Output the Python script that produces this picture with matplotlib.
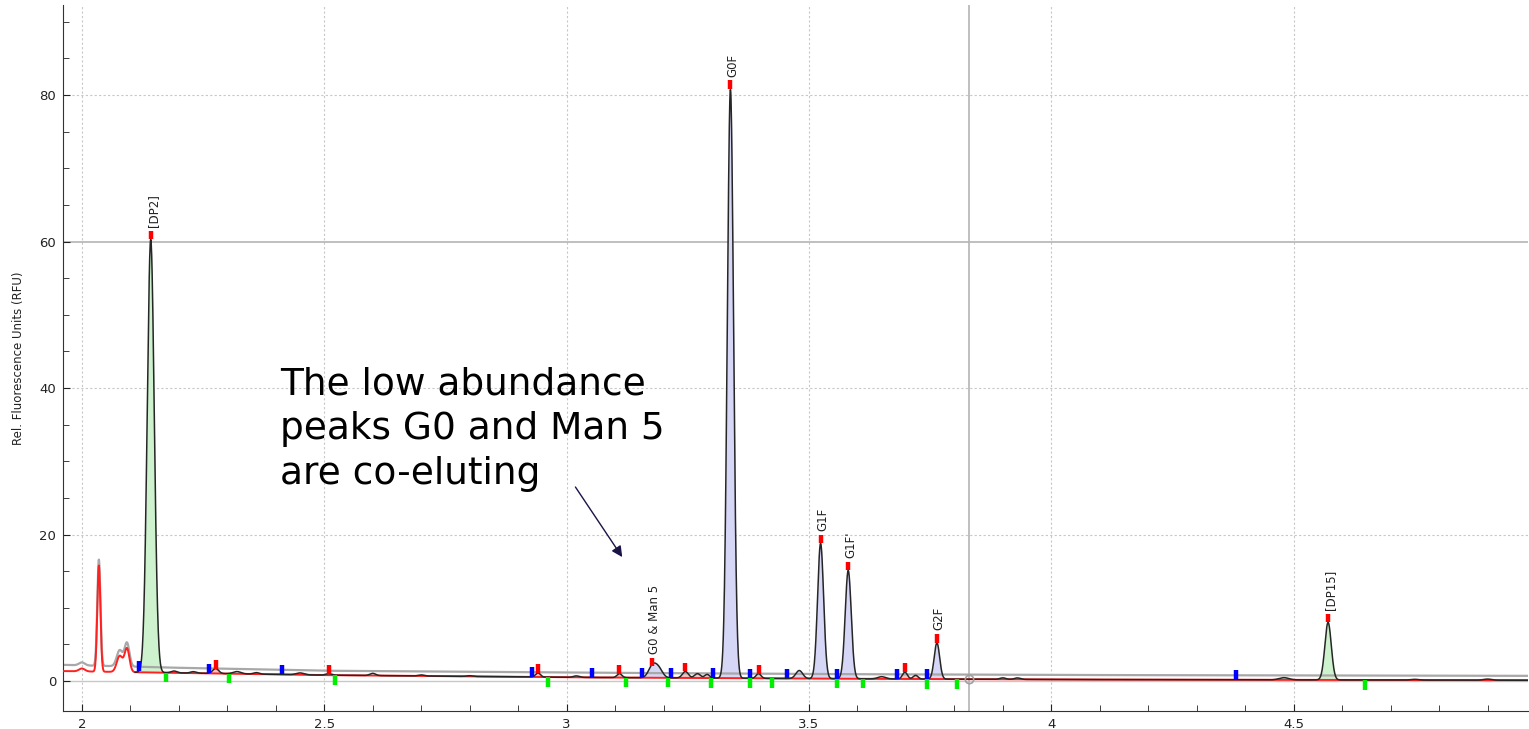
import numpy as np
import matplotlib.pyplot as plt

# Retention time axis (min)
x = np.linspace(1.96, 4.983, 6000)

# Drifting baseline of the detector trace (red) and the blank trace (grey)
base_knots_x = [1.96, 2.2, 2.5, 3.0, 3.5, 4.0, 4.983]
base_knots_y = [1.35, 1.1, 0.8, 0.5, 0.32, 0.2, 0.1]
blank_knots_x = [1.96, 2.2, 2.5, 3.0, 3.5, 4.0, 4.983]
blank_knots_y = [2.2, 1.8, 1.4, 1.15, 0.95, 0.82, 0.7]

# System peaks before the first glycan (seen on both red and grey traces)
early_pos = [2.0, 2.035, 2.078, 2.093]
early_apex = [0.4, 14.5, 2.2, 3.2]
early_sig = [0.006, 0.0032, 0.006, 0.005]

# Integrated peaks: apex retention time, apex RFU, width, start, end, label, fill
peak_pos = [2.142, 2.276, 2.509, 2.941, 3.109, 3.177, 3.245, 3.338, 3.396,
            3.524, 3.581, 3.698, 3.764, 4.571]
peak_apex = [60.3, 1.7, 1.0, 1.1, 1.0, 2.0, 1.3, 80.8, 1.0, 18.8, 15.1, 1.2,
             5.2, 8.0]
peak_sig = [0.0072, 0.006, 0.006, 0.005, 0.005, 0.008, 0.006, 0.0064, 0.005,
            0.0062, 0.0062, 0.005, 0.0056, 0.0066]
peak_start = [2.118, 2.262, 2.412, 2.928, 3.052, 3.155, 3.216, 3.302, 3.379,
              3.454, 3.557, 3.682, 3.743, 4.381]
peak_end = [2.173, 2.303, 2.523, 2.961, 3.122, 3.209, 3.297, 3.379, 3.424,
            3.557, 3.611, 3.743, 3.805, 4.647]
peak_label = ['[DP2]', '', '', '', '', 'G0 & Man 5', '', 'G0F', '', 'G1F',
              "G1F'", '', 'G2F', '[DP15]']
peak_kind = ['ladder', 'minor', 'minor', 'minor', 'minor', 'glycan', 'minor',
             'glycan', 'minor', 'glycan', 'glycan', 'minor', 'glycan', 'ladder']

# Small unlabelled bumps on the sample trace
bump_pos = [2.19, 2.23, 2.32, 2.36, 2.45, 2.6, 2.7, 2.8, 3.02, 3.19, 3.27,
            3.29, 3.48, 3.65, 3.72, 3.9, 3.93, 4.48, 4.75, 4.9]
bump_h = [0.25, 0.2, 0.3, 0.2, 0.25, 0.3, 0.15, 0.1, 0.2, 1.2, 0.6, 0.5,
          1.1, 0.3, 0.5, 0.2, 0.2, 0.3, 0.1, 0.15]
bump_sig = [0.006, 0.006, 0.008, 0.006, 0.008, 0.006, 0.006, 0.006, 0.006,
            0.008, 0.006, 0.005, 0.007, 0.008, 0.005, 0.006, 0.006, 0.01,
            0.008, 0.008]

cursor_x = 3.831
cursor_y = 60


def gauss(pos, h, s):
    return h * np.exp(-0.5 * ((x - pos) / s) ** 2)


baseline = np.interp(x, base_knots_x, base_knots_y)
blank = np.interp(x, blank_knots_x, blank_knots_y)

early = sum(gauss(p, h, s) for p, h, s in zip(early_pos, early_apex, early_sig))
red_trace = baseline + early
grey_trace = blank + early
grey_trace[x > 2.118] = blank[x > 2.118]

sample = baseline.copy()
for p, a, s in zip(peak_pos, peak_apex, peak_sig):
    sample += gauss(p, a - np.interp(p, base_knots_x, base_knots_y), s)
for p, h, s in zip(bump_pos, bump_h, bump_sig):
    sample += gauss(p, h, s)

fig = plt.figure(figsize=(15.29, 7.29), dpi=100)
ax = fig.add_axes([0.0412, 0.0247, 0.958, 0.9684])

ax.set_xlim(1.961, 4.983)
ax.set_ylim(-4.1, 92.3)

ax.set_xticks([2, 2.5, 3, 3.5, 4, 4.5])
ax.set_xticklabels(['2', '2.5', '3', '3.5', '4', '4.5'])
ax.set_xticks(np.arange(2.0, 4.95, 0.1), minor=True)
ax.set_yticks([0, 20, 40, 60, 80])
ax.set_yticks(np.arange(0, 91, 5), minor=True)
ax.tick_params(which='both', direction='in', labelsize=9.5, colors='#222222')
ax.tick_params(which='major', length=5, pad=5)
ax.tick_params(which='minor', length=4)
for side in ['top', 'right']:
    ax.spines[side].set_visible(False)
for side in ['left', 'bottom']:
    ax.spines[side].set_color('#333333')

for gx in [2, 2.5, 3, 3.5, 4, 4.5]:
    ax.axvline(gx, color='#c8c8c8', lw=0.8, ls=(0, (2, 2)), zorder=0)
for gy in [20, 40, 80]:
    ax.axhline(gy, color='#c8c8c8', lw=0.8, ls=(0, (2, 2)), zorder=0)
ax.axhline(0, color='#c8c8c8', lw=1.0, zorder=0)
ax.axhline(cursor_y, color='#b4b4b4', lw=1.2, zorder=0)
ax.axvline(cursor_x, color='#b4b4b4', lw=1.2, zorder=0)

ax.set_ylabel('Rel. Fluorescence Units (RFU)', fontsize=8.5, color='#222222',
              labelpad=10)

fill_colors = {'ladder': '#cdf2cd', 'glycan': '#d6d6f6', 'minor': '#f6c2c2'}
mask_sample = x >= 2.11
for st, en, kind in zip(peak_start, peak_end, peak_kind):
    seg = (x >= st) & (x <= en)
    ax.fill_between(x[seg], baseline[seg], sample[seg],
                    color=fill_colors[kind], lw=0, zorder=1)

ax.plot(x, grey_trace, color='#a8a8a8', lw=1.6, zorder=2)
ax.plot(x, red_trace, color='#ff2020', lw=1.4, zorder=3)
ax.plot(x[mask_sample], sample[mask_sample], color='#262626', lw=1.1, zorder=4)

# Peak start / apex / end markers
for st in peak_start:
    yb = np.interp(st, x, sample)
    ax.vlines(st, yb, yb + 1.3, color='#0000ff', lw=3.2, zorder=5)
for en in peak_end:
    yb = np.interp(en, x, baseline)
    ax.vlines(en, yb - 1.3, yb, color='#00ee00', lw=3.2, zorder=5)
for p, a, lab in zip(peak_pos, peak_apex, peak_label):
    ax.vlines(p, a, a + 1.2, color='#ff0000', lw=3.2, zorder=5)
    if lab:
        ax.text(p + 0.005, a + 1.7, lab, rotation=90, ha='center', va='bottom',
                fontsize=8.5, color='#222222')

ax.plot([cursor_x], [np.interp(cursor_x, x, baseline)], 'o', ms=6, mfc='none',
        mec='#a0a0a0', mew=1.2, zorder=6)

ax.text(2.408, 42.9, 'The low abundance\npeaks G0 and Man 5\nare co-eluting',
        fontsize=27, color='black', ha='left', va='top', linespacing=1.3)
ax.annotate('', xy=(3.118, 16.6), xytext=(3.015, 26.8),
            arrowprops=dict(arrowstyle='-|>', color='#1a1446', lw=1.0,
                            mutation_scale=16))

fig.savefig('out.png', dpi=100)
